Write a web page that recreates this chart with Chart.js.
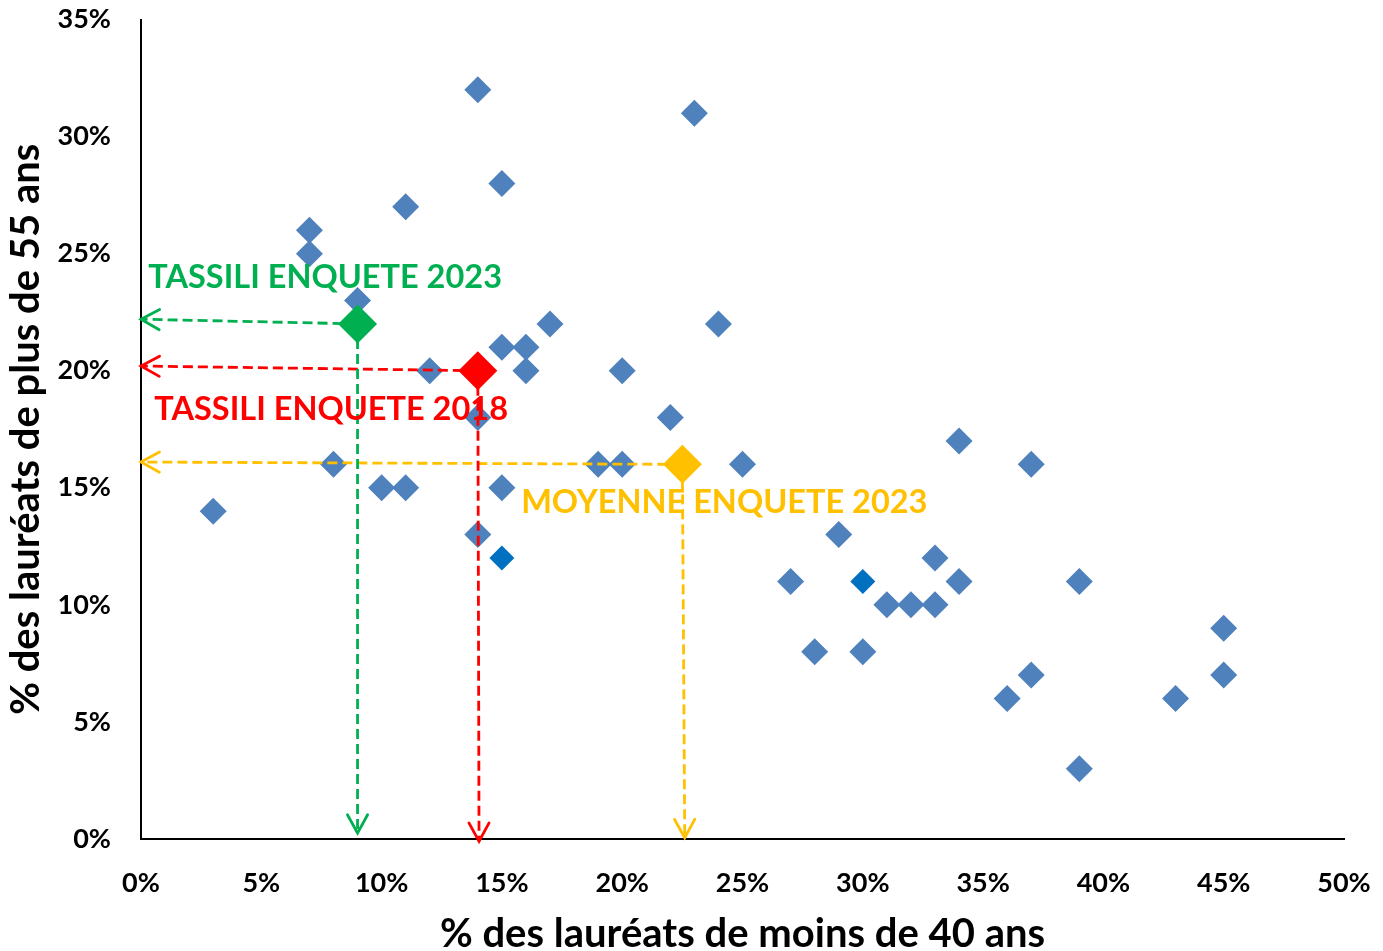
<!DOCTYPE html>
<html>
<head>
<meta charset="utf-8">
<script src="https://cdn.jsdelivr.net/npm/chart.js@4/dist/chart.umd.min.js"></script>
<style>
  html, body { margin: 0; padding: 0; background: #fff; }
  canvas { display: block; }
</style>
</head>
<body>
<canvas id="chart" width="1383" height="951"></canvas>
<script>
/* --------------- Data --------------------- */
// % under 40 (x) / % over 55 (y), one per institution
const blueX = [3, 7, 7, 8, 9, 10, 11, 11, 12, 14, 14, 14, 15, 15, 15, 16, 16, 17, 19, 20, 20, 22, 23, 24, 25,
               27, 28, 29, 30, 31, 32, 33, 33, 34, 34, 36, 37, 37, 39, 39, 43, 45, 45];
const blueY = [14, 26, 25, 16, 23, 15, 15, 27, 20, 32, 18, 13, 28, 21, 15, 21, 20, 22, 16, 16, 20, 18, 31, 22, 16,
               11, 8, 13, 8, 10, 10, 12, 10, 17, 11, 6, 16, 7, 11, 3, 6, 9, 7];
const darkX = [15, 30];
const darkY = [12, 11];

// highlighted points
const refLabels = ["TASSILI ENQUETE 2023", "TASSILI ENQUETE 2018", "MOYENNE ENQUETE 2023"];
const refX = [9, 14, 22.5];
const refY = [22, 20, 16];
// where the dashed arrows end on each axis
const arrowEndY = [22.2, 20.2, 16.1];
const arrowEndX = [9, 14.05, 22.6];
const arrowBottomY = [0.25, -0.1, 0.05];

const xTicks = { min: 0, max: 50, step: 5 };
const yTicks = { min: 0, max: 35, step: 5 };

/* --------------- Styles --------------------- */
const refColors = ["#00B050", "#FF0000", "#FFC000"];
const FONT = "Lato, 'Open Sans', sans-serif";
// text anchor (data space) for each highlighted label: left edge, vertical middle
const labelPos = [{ x: 0.3, y: 24.0 }, { x: 0.55, y: 18.35 }, { x: 15.8, y: 14.35 }];

const toPts = (xs, ys) => xs.map((x, i) => ({ x: x, y: ys[i] }));

let datasets = [];

// highlighted markers on top
refLabels.forEach((name, i) => {
  datasets.push({
    label: name,
    data: [{ x: refX[i], y: refY[i] }],
    pointStyle: "rectRot",
    pointRadius: 19.5,
    pointBackgroundColor: refColors[i],
    pointBorderWidth: 0,
    order: 0
  });
});

// dashed arrows (horizontal to y axis, vertical to x axis)
refLabels.forEach((name, i) => {
  [[{ x: refX[i], y: refY[i] }, { x: 0, y: arrowEndY[i] }],
   [{ x: refX[i], y: refY[i] }, { x: arrowEndX[i], y: arrowBottomY[i] }]].forEach(seg => {
    datasets.push({
      label: "arrow",
      data: seg,
      showLine: true,
      borderColor: refColors[i],
      borderWidth: 2.8,
      borderDash: [10, 5],
      pointRadius: 0,
      clip: false,
      isArrow: true,
      order: 1
    });
  });
});

datasets.push({
  label: "dark",
  data: toPts(darkX, darkY),
  pointStyle: "rectRot",
  pointRadius: 12.5,
  pointBackgroundColor: "#0070C0",
  pointBorderWidth: 0,
  order: 2
});
datasets.push({
  label: "all",
  data: toPts(blueX, blueY),
  pointStyle: "rectRot",
  pointRadius: 13.5,
  pointBackgroundColor: "#4F81BD",
  pointBorderWidth: 0,
  order: 3
});

/* --------------- Arrow heads + labels --------------------- */
const annotPlugin = {
  id: "annot",
  afterDatasetsDraw(chart) {
    const ctx = chart.ctx;
    const xs = chart.scales.x, ys = chart.scales.y;
    chart.data.datasets.forEach((ds) => {
      if (!ds.isArrow) return;
      const a = ds.data[0], b = ds.data[1];
      const x0 = xs.getPixelForValue(a.x), y0 = ys.getPixelForValue(a.y);
      const x1 = xs.getPixelForValue(b.x), y1 = ys.getPixelForValue(b.y);
      const ang = Math.atan2(y1 - y0, x1 - x0);
      const len = 21, spread = 0.5;
      ctx.save();
      ctx.strokeStyle = ds.borderColor;
      ctx.lineWidth = 2.8;
      ctx.setLineDash([]);
      ctx.lineCap = "round";
      ctx.beginPath();
      ctx.moveTo(x1 - len * Math.cos(ang - spread), y1 - len * Math.sin(ang - spread));
      ctx.lineTo(x1, y1);
      ctx.lineTo(x1 - len * Math.cos(ang + spread), y1 - len * Math.sin(ang + spread));
      ctx.stroke();
      ctx.restore();
    });
    ctx.save();
    ctx.font = "bold 32.5px " + FONT;
    ctx.textAlign = "left";
    ctx.textBaseline = "middle";
    refLabels.forEach((t, i) => {
      ctx.fillStyle = refColors[i];
      ctx.fillText(t, xs.getPixelForValue(labelPos[i].x), ys.getPixelForValue(labelPos[i].y));
    });
    ctx.restore();
  }
};

// fixed axis boxes, no extra label overhang padding
const fixBox = (s, w, h) => {
  if (w) s.width = w;
  if (h) s.height = h;
  s.paddingLeft = s.paddingRight = s.paddingTop = s.paddingBottom = 0;
};

/* --------------- Chart --------------------- */
const chart = new Chart(document.getElementById("chart"), {
  type: "scatter",
  data: { datasets: datasets },
  plugins: [annotPlugin],
  options: {
    responsive: false,
    animation: false,
    events: [],
    layout: { padding: { top: 17, right: 39, left: 0, bottom: 0 } },
    plugins: {
      legend: { display: false },
      tooltip: { enabled: false }
    },
    scales: {
      x: {
        type: "linear",
        min: xTicks.min,
        max: xTicks.max,
        grid: { display: false, drawTicks: false },
        border: { display: true, color: "#000", width: 2 },
        ticks: {
          stepSize: xTicks.step,
          padding: 28,
          color: "#000",
          font: { family: FONT, size: 27, weight: "bold" },
          callback: v => v + "%"
        },
        title: {
          display: true,
          text: "% des lauréats de moins de 40 ans",
          color: "#000",
          font: { family: FONT, size: 40, weight: "bold" },
          padding: { top: 0, bottom: -7 }
        },
        afterFit: s => fixBox(s, 0, 112)
      },
      y: {
        type: "linear",
        min: yTicks.min,
        max: yTicks.max,
        grid: { display: false, drawTicks: false },
        border: { display: true, color: "#000", width: 2 },
        ticks: {
          stepSize: yTicks.step,
          padding: 30,
          color: "#000",
          font: { family: FONT, size: 27, weight: "bold" },
          callback: v => v + "%"
        },
        title: {
          display: true,
          text: "% des lauréats de plus de 55 ans",
          color: "#000",
          font: { family: FONT, size: 40, weight: "bold" },
          padding: { top: 2, bottom: 0 }
        },
        afterFit: s => fixBox(s, 141, 0)
      }
    }
  }
});
</script>
</body>
</html>
